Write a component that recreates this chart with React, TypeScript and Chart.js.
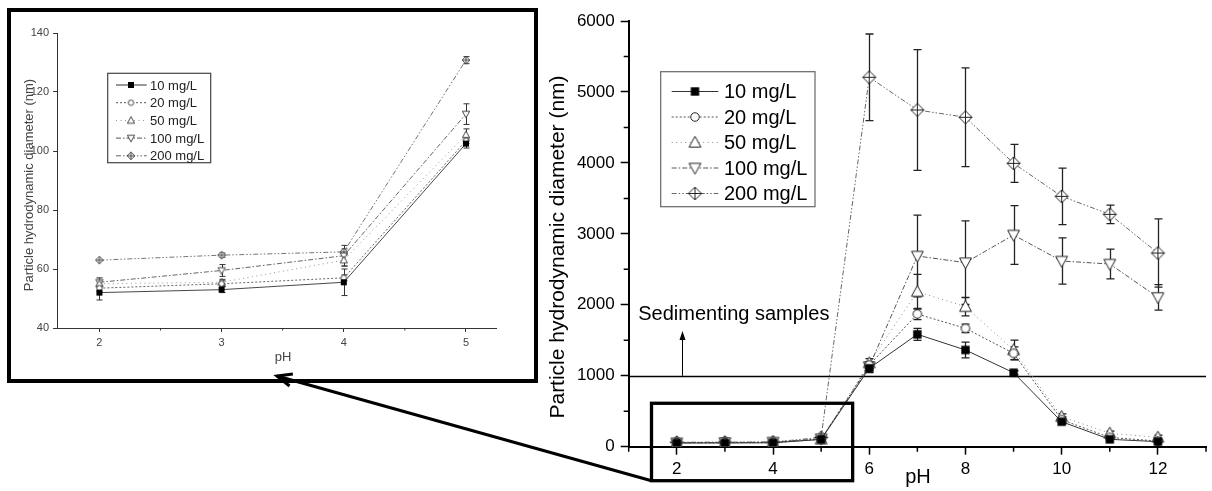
import React, { useEffect, useRef } from "react";
import { Chart, registerables } from "chart.js";

Chart.register(...registerables);

// ---------- data ----------
const seriesNames = ["10 mg/L", "20 mg/L", "50 mg/L", "100 mg/L", "200 mg/L"];
const phMain = [2, 3, 4, 5, 6, 7, 8, 9, 10, 11, 12];
const phInset = [2, 3, 4, 5];

const v10 = [52, 53, 55.5, 102.5, 1105, 1584, 1363, 1043, 352, 104, 71];
const v20 = [53.5, 55, 57, 103.5, 1150, 1870, 1668, 1316, 380, 130, 80];
const v50 = [55, 55.5, 63, 105.5, 1180, 2185, 1973, 1363, 423, 189, 132];
const v100 = [55.5, 59.5, 64.5, 112.5, 1130, 2688, 2594, 2984, 2617, 2575, 2105];
const v200 = [63, 64.7, 65.8, 130.8, 5207, 4746, 4643, 3994, 3529, 3275, 2730];

const e10 = [2.5, 1, 4.5, 1.5, 60, 85, 110, 30, 30, 20, 20];
const e20 = [1, 1, 1, 1, 50, 80, 60, 90, 40, 20, 20];
const e50 = [1, 1, 2, 2, 60, 245, 130, 140, 40, 30, 30];
const e100 = [1.5, 2, 3.5, 3.5, 50, 575, 590, 415, 325, 210, 180];
const e200 = [0.5, 0.7, 1, 1.2, 610, 850, 695, 268, 398, 130, 480];

const xTicksMain = [2, 4, 6, 8, 10, 12];
const xMinorMain = [1, 3, 5, 7, 9, 11, 13];
const yTicksMain = [0, 1000, 2000, 3000, 4000, 5000, 6000];
const yMinorMain = [500, 1500, 2500, 3500, 4500, 5500];
const xTicksInset = [2, 3, 4, 5];
const xMinorInset = [2.5, 3.5, 4.5];
const yTicksInset = [40, 60, 80, 100, 120, 140];

const sedimentThreshold = 1000;
const sedimentLabel = "Sedimenting samples";
const yTitle = "Particle hydrodynamic diameter (nm)";
const xTitle = "pH";

// ---------- styles ----------
const FONT = "'Liberation Sans', Arial, Helvetica, sans-serif";
const markerKinds = ["square", "circle", "triUp", "triDown", "diamond"];
const dashes = [[], [2, 2], [1, 3.5], [5, 2, 1.5, 2], [5, 2, 1.5, 2, 1.5, 2]];
const lineColors = ["#333", "#555", "#8a8a8a", "#555", "#666"];
const mainMarkerR = [4.2, 5, 6.2, 6.2, 6.5];
const insetMarkerR = [3, 3.2, 3.8, 3.8, 3.8];

const allValues = [v10, v20, v50, v100, v200];
const allErrors = [e10, e20, e50, e100, e200];

function makeMarker(kind: string, r: number, lw: number, stroke: string) {
  const size = Math.ceil(2 * r + 4);
  const c = document.createElement("canvas");
  c.width = size;
  c.height = size;
  const ctx = c.getContext("2d")!;
  const m = size / 2;
  ctx.lineWidth = lw;
  ctx.strokeStyle = stroke;
  ctx.fillStyle = "#fff";
  if (kind === "square") {
    ctx.fillStyle = "#000";
    ctx.fillRect(m - r, m - r, 2 * r, 2 * r);
    return c;
  }
  ctx.beginPath();
  if (kind === "circle") {
    ctx.arc(m, m, r * 0.85, 0, Math.PI * 2);
  } else if (kind === "triUp") {
    ctx.moveTo(m, m - r);
    ctx.lineTo(m + r * 0.95, m + r * 0.75);
    ctx.lineTo(m - r * 0.95, m + r * 0.75);
    ctx.closePath();
  } else if (kind === "triDown") {
    ctx.moveTo(m, m + r);
    ctx.lineTo(m + r * 0.95, m - r * 0.75);
    ctx.lineTo(m - r * 0.95, m - r * 0.75);
    ctx.closePath();
  } else if (kind === "diamond") {
    ctx.moveTo(m, m - r);
    ctx.lineTo(m + r, m);
    ctx.lineTo(m, m + r);
    ctx.lineTo(m - r, m);
    ctx.closePath();
  }
  ctx.fill();
  ctx.stroke();
  if (kind === "diamond") {
    ctx.beginPath();
    ctx.moveTo(m, m - r);
    ctx.lineTo(m, m + r);
    ctx.moveTo(m - r, m);
    ctx.lineTo(m + r, m);
    ctx.stroke();
  }
  return c;
}

function errorBarPlugin(color: string, width: number, cap: number) {
  return {
    id: "errorBars",
    beforeDatasetsDraw(chart: any) {
      const { ctx, scales } = chart;
      const x = scales.x, y = scales.y;
      ctx.save();
      ctx.strokeStyle = color;
      ctx.lineWidth = width;
      chart.data.datasets.forEach((ds: any) => {
        ds.data.forEach((pt: any, j: number) => {
          const e = ds.errors ? ds.errors[j] : 0;
          if (!e) return;
          const px = Math.round(x.getPixelForValue(pt.x)) + 0.5;
          const y0 = y.getPixelForValue(pt.y - e);
          const y1 = y.getPixelForValue(pt.y + e);
          if (Math.abs(y1 - y0) < 3) return;
          ctx.beginPath();
          ctx.moveTo(px, y0);
          ctx.lineTo(px, y1);
          ctx.moveTo(px - cap, y0);
          ctx.lineTo(px + cap, y0);
          ctx.moveTo(px - cap, y1);
          ctx.lineTo(px + cap, y1);
          ctx.stroke();
        });
      });
      ctx.restore();
    },
  };
}

function drawLegend(
  ctx: CanvasRenderingContext2D,
  box: [number, number, number, number],
  rowY: number[],
  lx0: number,
  lx1: number,
  mx: number,
  tx: number,
  fontSize: number,
  markers: HTMLCanvasElement[],
  textColor: string,
  borderColor: string
) {
  ctx.save();
  ctx.fillStyle = "#fff";
  ctx.fillRect(box[0], box[1], box[2] - box[0], box[3] - box[1]);
  ctx.strokeStyle = borderColor;
  ctx.lineWidth = 1.2;
  ctx.strokeRect(box[0], box[1], box[2] - box[0], box[3] - box[1]);
  seriesNames.forEach((name, i) => {
    const yy = rowY[i];
    ctx.beginPath();
    ctx.setLineDash(dashes[i]);
    ctx.strokeStyle = lineColors[i];
    ctx.lineWidth = 1;
    ctx.moveTo(lx0, yy);
    ctx.lineTo(lx1, yy);
    ctx.stroke();
    ctx.setLineDash([]);
    const mk = markers[i];
    ctx.drawImage(mk, mx - mk.width / 2, yy - mk.height / 2);
    ctx.fillStyle = textColor;
    ctx.font = `${fontSize}px ${FONT}`;
    ctx.textAlign = "left";
    ctx.textBaseline = "middle";
    ctx.fillText(name, tx, yy + 1);
  });
  ctx.restore();
}

function makeDatasets(xs: number[], markers: HTMLCanvasElement[], n: number, lw: number) {
  return allValues.map((vals, i) => ({
    label: seriesNames[i],
    data: xs.map((p, j) => ({ x: p, y: vals[j] })),
    errors: allErrors[i].slice(0, n),
    borderColor: lineColors[i],
    borderWidth: lw,
    borderDash: dashes[i],
    pointStyle: markers[i],
    pointRadius: 5,
    pointHoverRadius: 5,
    fill: false,
    tension: 0,
  }));
}

export default function App() {
  const mainRef = useRef<HTMLCanvasElement>(null);
  const insetRef = useRef<HTMLCanvasElement>(null);

  useEffect(() => {
    const mainMarkers = markerKinds.map((k, i) => makeMarker(k, mainMarkerR[i], 1, "#222"));
    const insetMarkers = markerKinds.map((k, i) => makeMarker(k, insetMarkerR[i], 0.9, "#333"));

    const mainDecor = {
      id: "mainDecor",
      beforeDatasetsDraw(chart: any) {
        const { ctx, chartArea, scales } = chart;
        const y = scales.y;
        const ly = Math.round(y.getPixelForValue(sedimentThreshold)) + 0.5;
        ctx.save();
        ctx.strokeStyle = "#000";
        ctx.lineWidth = 1.5;
        ctx.beginPath();
        ctx.moveTo(chartArea.left, ly);
        ctx.lineTo(chartArea.right, ly);
        ctx.stroke();
        ctx.restore();
      },
      afterDraw(chart: any) {
        const { ctx, chartArea, scales } = chart;
        const x = scales.x, y = scales.y;
        ctx.save();
        // minor ticks
        ctx.strokeStyle = "#000";
        ctx.lineWidth = 1.5;
        ctx.beginPath();
        xMinorMain.forEach((v) => {
          const px = x.getPixelForValue(v);
          ctx.moveTo(px, chartArea.bottom);
          ctx.lineTo(px, chartArea.bottom + 5);
        });
        yMinorMain.forEach((v) => {
          const py = y.getPixelForValue(v);
          ctx.moveTo(chartArea.left, py);
          ctx.lineTo(chartArea.left - 5, py);
        });
        ctx.stroke();

        // axis titles
        ctx.fillStyle = "#000";
        ctx.font = `21px ${FONT}`;
        ctx.textAlign = "center";
        ctx.textBaseline = "alphabetic";
        ctx.save();
        ctx.translate(564, 247);
        ctx.rotate(-Math.PI / 2);
        ctx.fillText(yTitle, 0, 0);
        ctx.restore();
        ctx.font = `20px ${FONT}`;
        ctx.textBaseline = "middle";
        ctx.fillText(xTitle, 918, 477);

        // sedimenting annotation
        const ax = x.getPixelForValue(2.118);
        const ay0 = y.getPixelForValue(sedimentThreshold);
        const ay1 = y.getPixelForValue(1630);
        ctx.lineWidth = 1;
        ctx.beginPath();
        ctx.moveTo(ax, ay0);
        ctx.lineTo(ax, ay1 + 6);
        ctx.stroke();
        ctx.beginPath();
        ctx.moveTo(ax, ay1);
        ctx.lineTo(ax + 3, ay1 + 9);
        ctx.lineTo(ax - 3, ay1 + 9);
        ctx.closePath();
        ctx.fill();
        ctx.font = `20px ${FONT}`;
        ctx.textAlign = "center";
        ctx.textBaseline = "middle";
        ctx.fillText(sedimentLabel, x.getPixelForValue(3.185), y.getPixelForValue(1870));

        // zoom rectangle
        const rl = x.getPixelForValue(1.474);
        const rr = x.getPixelForValue(5.655);
        const rt = y.getPixelForValue(612);
        const rb = y.getPixelForValue(0) + 34;
        ctx.lineWidth = 3.3;
        ctx.strokeRect(rl, rt, rr - rl, rb - rt);

        // connector arrow to inset
        const tipX = 277, tipY = 376;
        ctx.lineWidth = 3;
        ctx.beginPath();
        ctx.moveTo(rl, rb);
        ctx.lineTo(tipX, tipY);
        ctx.stroke();
        const ang = Math.atan2(rb - tipY, rl - tipX);
        ctx.beginPath();
        ctx.moveTo(tipX + 16 * Math.cos(ang + 0.4), tipY + 16 * Math.sin(ang + 0.4));
        ctx.lineTo(tipX, tipY);
        ctx.lineTo(tipX + 16 * Math.cos(ang - 0.4), tipY + 16 * Math.sin(ang - 0.4));
        ctx.stroke();
        ctx.restore();

        drawLegend(
          ctx,
          [660.7, 71.7, 815, 206.7],
          [91.5, 117, 142.5, 168, 193.5],
          671.7,
          718.3,
          695,
          724,
          20,
          mainMarkers,
          "#000",
          "#666"
        );
      },
    };

    const insetDecor = {
      id: "insetDecor",
      afterDraw(chart: any) {
        const { ctx, chartArea, scales } = chart;
        const x = scales.x;
        ctx.save();
        ctx.strokeStyle = "#333";
        ctx.lineWidth = 1;
        ctx.beginPath();
        xMinorInset.forEach((v) => {
          const px = x.getPixelForValue(v);
          ctx.moveTo(px, chartArea.bottom);
          ctx.lineTo(px, chartArea.bottom + 2.5);
        });
        ctx.stroke();
        ctx.fillStyle = "#444";
        ctx.font = `13px ${FONT}`;
        ctx.textAlign = "center";
        ctx.textBaseline = "alphabetic";
        ctx.save();
        ctx.translate(33, 185);
        ctx.rotate(-Math.PI / 2);
        ctx.fillText(yTitle, 0, 0);
        ctx.restore();
        ctx.textBaseline = "middle";
        ctx.fillText(xTitle, 283, 357);
        ctx.restore();
        drawLegend(
          ctx,
          [107.7, 73.3, 210.7, 162.7],
          [85, 102.7, 120.4, 138.1, 155.8],
          116,
          146.7,
          131,
          150,
          13,
          insetMarkers,
          "#222",
          "#444"
        );
      },
    };

    const main = new Chart(mainRef.current!, {
      type: "line",
      data: { datasets: makeDatasets(phMain, mainMarkers, 11, 1) as any },
      options: {
        animation: false,
        responsive: false,
        events: [],
        layout: { padding: { top: 21, left: 0, right: 0, bottom: 0 } },
        plugins: { legend: { display: false }, tooltip: { enabled: false } },
        scales: {
          x: {
            type: "linear",
            min: 1,
            max: 13,
            afterBuildTicks: (a: any) => {
              a.ticks = xTicksMain.map((v) => ({ value: v }));
            },
            afterFit: (a: any) => {
              a.height = 44.3;
            },
            grid: { drawOnChartArea: false, drawTicks: true, tickLength: 8, tickColor: "#000", tickWidth: 1.5 },
            border: { display: true, color: "#000", width: 2 },
            ticks: {
              font: { family: FONT, size: 17 },
              color: "#000",
              padding: 4,
              maxRotation: 0,
              autoSkip: false,
              callback: (v: any) => String(v),
            },
          },
          y: {
            type: "linear",
            min: 0,
            max: 6000,
            afterBuildTicks: (a: any) => {
              a.ticks = yTicksMain.map((v) => ({ value: v }));
            },
            afterFit: (a: any) => {
              a.width = 628.7;
            },
            grid: { drawOnChartArea: false, drawTicks: true, tickLength: 8, tickColor: "#000", tickWidth: 1.5 },
            border: { display: true, color: "#000", width: 2 },
            ticks: {
              font: { family: FONT, size: 17 },
              color: "#000",
              padding: 6,
              callback: (v: any) => String(v),
            },
          },
        },
      },
      plugins: [errorBarPlugin("#222", 1.3, 4), mainDecor],
    } as any);

    const inset = new Chart(insetRef.current!, {
      type: "line",
      data: { datasets: makeDatasets(phInset, insetMarkers, 4, 0.9) as any },
      options: {
        animation: false,
        responsive: false,
        events: [],
        layout: { padding: { top: 33, left: 0, right: 43.5, bottom: 0 } },
        plugins: { legend: { display: false }, tooltip: { enabled: false } },
        scales: {
          x: {
            type: "linear",
            min: 1.654,
            max: 5.25,
            afterBuildTicks: (a: any) => {
              a.ticks = xTicksInset.map((v) => ({ value: v }));
            },
            afterFit: (a: any) => {
              a.height = 67;
            },
            grid: { drawOnChartArea: false, drawTicks: true, tickLength: 4, tickColor: "#333", tickWidth: 1 },
            border: { display: true, color: "#333", width: 1 },
            ticks: {
              font: { family: FONT, size: 11 },
              color: "#444",
              padding: 4,
              maxRotation: 0,
              autoSkip: false,
              callback: (v: any) => String(v),
            },
          },
          y: {
            type: "linear",
            min: 40,
            max: 140,
            afterBuildTicks: (a: any) => {
              a.ticks = yTicksInset.map((v) => ({ value: v }));
            },
            afterFit: (a: any) => {
              a.width = 57.1;
            },
            grid: { drawOnChartArea: false, drawTicks: true, tickLength: 4, tickColor: "#333", tickWidth: 1 },
            border: { display: true, color: "#333", width: 1 },
            ticks: {
              font: { family: FONT, size: 11 },
              color: "#444",
              padding: 4,
              callback: (v: any) => String(v),
            },
          },
        },
      },
      plugins: [errorBarPlugin("#333", 1, 3), insetDecor],
    } as any);

    return () => {
      main.destroy();
      inset.destroy();
    };
  }, []);

  return (
    <div
      style={{
        position: "fixed",
        left: 0,
        top: 0,
        width: 1212,
        height: 491,
        background: "#fff",
        overflow: "hidden",
      }}
    >
      <canvas ref={mainRef} width={1212} height={491} style={{ position: "absolute", left: 0, top: 0 }} />
      <canvas ref={insetRef} width={540} height={395} style={{ position: "absolute", left: 0, top: 0 }} />
      <div
        style={{
          position: "absolute",
          left: 7,
          top: 8,
          width: 531,
          height: 375,
          border: "4px solid #000",
          boxSizing: "border-box",
          pointerEvents: "none",
        }}
      />
    </div>
  );
}
